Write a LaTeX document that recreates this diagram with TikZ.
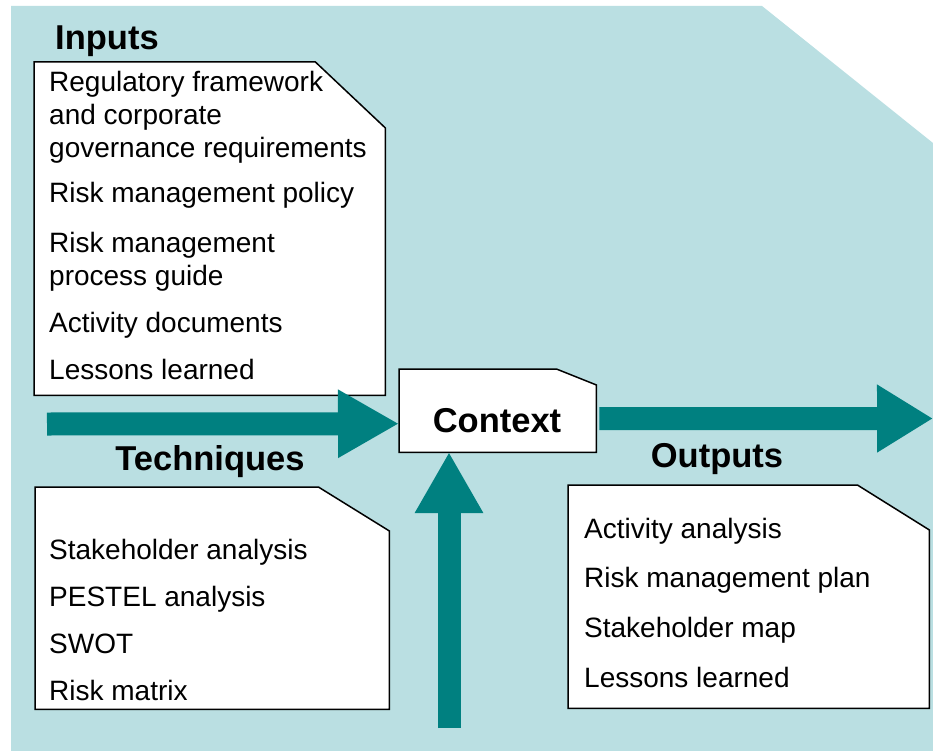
\documentclass[tikz,border=0pt]{standalone}
\usepackage{fontspec}
\setmainfont{Liberation Sans}
\usetikzlibrary{arrows.meta}
\definecolor{paleblue}{RGB}{186,223,226}
\definecolor{arrowteal}{RGB}{0,128,128}
\tikzset{
  docbox/.style={inner sep=0pt, anchor=north west},
  item/.style={anchor=base west, inner sep=0pt, align=left, font=\fontsize{28}{33}\selectfont},
  heading/.style={inner sep=0pt, font=\fontsize{34.5}{40}\selectfont\bfseries},
  bigarrow/.style={draw=arrowteal, line width=23pt, -{Triangle[length=61pt,width=64pt]}},
  outline/.style={draw=black, fill=white, line width=1.5pt, line join=miter}
}
% box with the top right corner cut off: node, dx, dy
\newcommand{\cutcorner}[3]{%
  \path[outline] (#1.north west) -- ([xshift=-#2pt]#1.north east) -- ([yshift=-#3pt]#1.north east)
    -- (#1.south east) -- (#1.south west) -- cycle;}
\begin{document}
\begin{tikzpicture}[x=1pt,y=-1pt]
		\useasboundingbox (0,0) rectangle (933,751);
		% background
		\fill[paleblue] (11,6) -- (762,6) -- (933,143) -- (933,751) -- (11,751) -- cycle;
		% boxes
		\node[docbox, minimum width=351pt, minimum height=333pt] (inbox) at (34,62) {};
		\node[docbox, minimum width=354pt, minimum height=222pt] (techbox) at (35,487) {};
		\node[docbox, minimum width=361pt, minimum height=223pt] (outbox) at (568,485) {};
		\node[docbox, minimum width=197pt, minimum height=83pt] (ctx) at (399,369) {};
		\cutcorner{inbox}{70}{66}
		\cutcorner{techbox}{71}{44}
		\cutcorner{outbox}{72}{45}
		\cutcorner{ctx}{40}{16}
		% arrows
		\coordinate (instart) at (47,424);
		\coordinate (intip) at ([yshift=-13pt]ctx.west);
		\coordinate (upstart) at (449,728);
		\coordinate (uptip) at (449,452);
		\coordinate (outstart) at ([xshift=3pt,yshift=-8pt]ctx.east);
		\coordinate (outtip) at (933,418.5);
		\draw[bigarrow] (instart) -- (intip);
		\draw[bigarrow] (upstart) -- (uptip);
		\draw[bigarrow, -{Triangle[length=56pt,width=64pt]}] (outstart) -- (outtip);
		% headings
		\node[heading, anchor=base west] (intitle) at (55,50) {Inputs};
		\node[heading, anchor=base] (techtitle) at (210,470) {Techniques};
		\node[heading, anchor=base] (outtitle) at (717,467) {Outputs};
		\node[heading, anchor=base] (ctxtitle) at (497,432) {Context};
		% inputs (base = last line)
		\node[item] (in1) at (49,158) {Regulatory framework\\and corporate\\governance requirements};
		\node[item] (in2) at (49,203) {Risk management policy};
		\node[item] (in3) at (49,285) {Risk management\\process guide};
		\node[item] (in4) at (49,332) {Activity documents};
		\node[item] (in5) at (49,379) {Lessons learned};
		% techniques
		\node[item] (tech1) at (49,559) {Stakeholder analysis};
		\node[item] (tech2) at (49,606) {PESTEL analysis};
		\node[item] (tech3) at (49,653) {SWOT};
		\node[item] (tech4) at (49,700) {Risk matrix};
		% outputs
		\node[item] (out1) at (584,538) {Activity analysis};
		\node[item] (out2) at (584,587) {Risk management plan};
		\node[item] (out3) at (584,637) {Stakeholder map};
		\node[item] (out4) at (584,687) {Lessons learned};
	\end{tikzpicture}
\end{document}
